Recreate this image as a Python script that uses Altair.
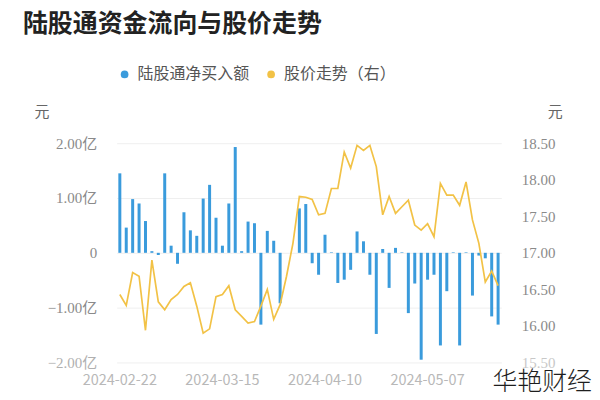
import altair as alt
import pandas as pd

title_text = "陆股通资金流向与股价走势"
series = ["陆股通净买入额", "股价走势（右）"]
colors = ["#3a9bdc", "#f2c246"]
watermark = "华艳财经"

dates = [
    "2024-02-22", "2024-02-23", "2024-02-26", "2024-02-27", "2024-02-28", "2024-02-29",
    "2024-03-01", "2024-03-04", "2024-03-05", "2024-03-06", "2024-03-07", "2024-03-08",
    "2024-03-11", "2024-03-12", "2024-03-13", "2024-03-14", "2024-03-15", "2024-03-18",
    "2024-03-19", "2024-03-20", "2024-03-21", "2024-03-22", "2024-03-25", "2024-03-26",
    "2024-03-27", "2024-03-28", "2024-03-29", "2024-04-01", "2024-04-02", "2024-04-03",
    "2024-04-08", "2024-04-09", "2024-04-10", "2024-04-11", "2024-04-12", "2024-04-15",
    "2024-04-16", "2024-04-17", "2024-04-18", "2024-04-19", "2024-04-22", "2024-04-23",
    "2024-04-24", "2024-04-25", "2024-04-26", "2024-04-29", "2024-04-30", "2024-05-06",
    "2024-05-07", "2024-05-08", "2024-05-09", "2024-05-10", "2024-05-13", "2024-05-14",
    "2024-05-15", "2024-05-16", "2024-05-17", "2024-05-20", "2024-05-21", "2024-05-22",
]

# 陆股通净买入额 (亿元); None = 陆股通休市
net_buy = [
    1.45, 0.46, 0.98, 0.90, 0.58, 0.03, -0.04, 1.45, 0.13, -0.20,
    0.74, 0.41, 0.31, 0.99, 1.24, 0.64, 0.13, 0.90, 1.93, 0.03,
    0.57, 0.54, -1.31, 0.40, 0.22, -0.92, None, None, 0.81, 0.89,
    -0.19, -0.40, 0.33, 0.01, -0.55, -0.49, -0.31, 0.39, 0.21, -0.40,
    -1.48, 0.07, -0.64, 0.09, 0.01, -1.10, -0.56, -1.95, -0.49, -0.40,
    -1.69, -0.70, 0.01, -1.69, 0.01, -0.78, -0.05, -0.10, -1.16, -1.31,
]

# 股价 (元)
price = [
    16.43, 16.28, 16.73, 16.68, 15.94, 16.90, 16.33, 16.22, 16.36, 16.43,
    16.54, 16.59, 16.27, 15.90, 15.96, 16.40, 16.43, 16.55, 16.22, 16.13,
    16.04, 16.06, 16.27, 16.50, 16.09, 16.29, 16.68, 17.13, 17.77, 17.76,
    17.73, 17.52, 17.54, 17.88, 17.88, 18.38, 18.16, 18.47, 18.40, 18.47,
    18.18, 17.52, 17.77, 17.54, 17.63, 17.72, 17.38, 17.31, 17.40, 17.22,
    17.95, 17.79, 17.79, 17.65, 17.97, 17.45, 17.13, 16.60, 16.75, 16.55,
]

left_ticks = [-2, -1, 0, 1, 2]
right_ticks = [15.5, 16.0, 16.5, 17.0, 17.5, 18.0, 18.5]
x_labels = ["2024-02-22", "2024-03-15", "2024-04-10", "2024-05-07"]

W, H = 386, 220
CJK = "Noto Sans CJK SC"
NUM = "Liberation Serif, Noto Sans CJK SC"

bars_df = pd.DataFrame({"date": dates, "value": net_buy, "series": series[0]}).dropna()
line_df = pd.DataFrame({"date": dates, "price": price})

x_scale = alt.Scale(type="band", domain=dates, paddingInner=0, paddingOuter=0)
label_list = "[" + ",".join("'%s'" % d for d in x_labels) + "]"
x_axis = alt.Axis(labelExpr="indexof(" + label_list + ", datum.value) >= 0 ? datum.value : ''",
                  labelAngle=0, ticks=False, domain=False, labelOverlap=False,
                  labelColor="#b8b8b8", labelFontSize=14.5, labelPadding=11,
                  labelFont=CJK, title=None, grid=False)

bars = alt.Chart(bars_df).mark_bar(size=3).encode(
    x=alt.X("date:N", scale=x_scale, axis=x_axis),
    y=alt.Y("value:Q", scale=alt.Scale(domain=[-2, 2], nice=False),
            axis=alt.Axis(values=left_ticks, title=None, ticks=False, domain=False,
                          labelExpr="datum.value == 0 ? '0' : format(datum.value, '.2f') + '亿'",
                          labelColor={"condition": {"test": "datum.value == -2", "value": "#b0b0b0"},
                                      "value": "#8a8a8a"},
                          labelFontSize=15, labelFont=NUM,
                          labelPadding=20, gridColor="#efefef", gridWidth=1)),
    color=alt.Color("series:N",
                    scale=alt.Scale(domain=series, range=colors),
                    legend=alt.Legend(orient="none", legendX=0, legendY=-77,
                                      direction="horizontal", title=None,
                                      symbolType="circle", symbolSize=60,
                                      labelFont=CJK, labelFontSize=16, labelColor="#555555",
                                      labelOffset=5, columnPadding=13, padding=0)),
)

line = alt.Chart(line_df).mark_line(color=colors[1], strokeWidth=1.7).encode(
    x=alt.X("date:N", scale=x_scale, bandPosition=0.5, axis=x_axis),
    y=alt.Y("price:Q", scale=alt.Scale(domain=[15.5, 18.5], nice=False),
            axis=alt.Axis(orient="right", values=right_ticks, format=".2f", title=None,
                          ticks=False, domain=False, grid=False,
                          labelColor={"condition": {"test": "datum.value == 15.5", "value": "#c8c8c8"},
                                      "value": "#8a8a8a"},
                          labelFontSize=15, labelFont=NUM,
                          labelPadding=20)),
)

title_layer = alt.Chart(pd.DataFrame({"t": [title_text]})).mark_text(
    align="left", baseline="middle", font=CJK, fontSize=25, fontWeight="bold", color="#222222"
).encode(text="t:N", x=alt.value(-94), y=alt.value(-120))

unit_left = alt.Chart(pd.DataFrame({"t": ["元"]})).mark_text(
    align="center", baseline="middle", font=CJK, fontSize=15, color="#666666"
).encode(text="t:N", x=alt.value(-75), y=alt.value(-31))

unit_right = alt.Chart(pd.DataFrame({"t": ["元"]})).mark_text(
    align="center", baseline="middle", font=CJK, fontSize=15, color="#666666"
).encode(text="t:N", x=alt.value(440), y=alt.value(-31))

wm = alt.Chart(pd.DataFrame({"t": [watermark]})).mark_text(
    align="right", baseline="middle", font=CJK, fontSize=25, fontWeight=300, color="#1e1e1e"
).encode(text="t:N", x=alt.value(477), y=alt.value(240))

chart = alt.layer(bars, line, title_layer, unit_left, unit_right, wm).resolve_scale(
    y="independent"
).properties(
    width=W, height=H,
    autosize=alt.AutoSizeParams(type="none"),
    padding={"left": 109, "top": 135, "right": 91, "bottom": 29},
    background="white",
).configure_view(stroke=None)

chart.save("out.html", embed_options={"renderer": "svg", "actions": False})
